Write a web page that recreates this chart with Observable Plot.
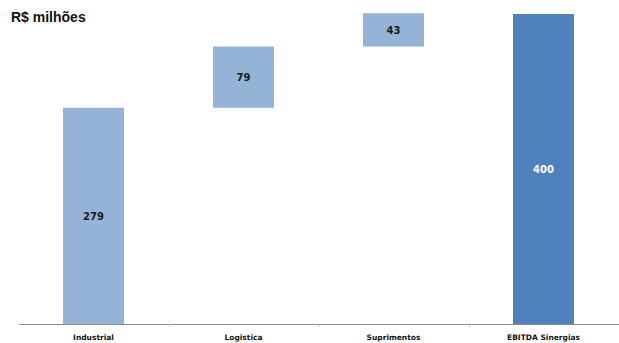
<!DOCTYPE html>
<html>
<head>
<meta charset="utf-8">
<script src="https://cdn.jsdelivr.net/npm/d3@7"></script>
<script src="https://cdn.jsdelivr.net/npm/@observablehq/plot@0.6"></script>
<style>
  html, body { margin: 0; padding: 0; background: #fff; }
  #wrap { position: relative; width: 619px; height: 343px; }
  #title { position: absolute; left: 11px; top: 9px; font-family: "Liberation Sans", Arial, sans-serif; font-weight: bold; font-size: 14px; color: #111; }
</style>
</head>
<body>
<div id="wrap">
  <div id="chart"></div>
  <div id="title">R$ milhões</div>
</div>
<script>
const categories = ["Industrial", "Logistica", "Suprimentos", "EBITDA Sinergias"];
const values = [279, 79, 43, 400];
const isTotal = [false, false, false, true];

const rows = [];
let running = 0;
categories.forEach((c, i) => {
  let y1, y2;
  if (isTotal[i]) { y1 = 0; y2 = values[i]; }
  else { y1 = running; y2 = running + values[i]; running = y2; }
  rows.push({cat: c, y1, y2, value: values[i], total: isTotal[i]});
});

const chart = Plot.plot({
  width: 619,
  height: 343,
  marginLeft: 19,
  marginRight: 0,
  marginTop: 14,
  marginBottom: 19,
  style: {fontFamily: "DejaVu Sans, sans-serif", background: "#fff"},
  x: {domain: categories, padding: 0, label: null},
  y: {domain: [0, 400], axis: null},
  marks: [
    Plot.rectY(rows, {x: "cat", y1: "y1", y2: "y2", fill: d => d.total ? "#4F81BD" : "#95B3D7", insetLeft: 44, insetRight: 45}),
    Plot.ruleY([0], {stroke: "#8c8c8c", strokeWidth: 1}),
    Plot.ruleX(categories.slice(1), {x: d => d, dx: -75, y1: 0, y2: -3.5, stroke: "#bbbbbb"}),
    Plot.text(rows, {x: "cat", y: d => (d.y1 + d.y2) / 2, text: d => String(d.value), dx: -1,
      fill: d => d.total ? "#ffffff" : "#1a1a1a", fontWeight: "bold", fontSize: 10}),
    Plot.axisX({tickSize: 0, tickPadding: 10, fontSize: 7.5, fontWeight: "bold", fill: "#111", dx: -1})
  ]
});
document.getElementById("chart").appendChild(chart);
</script>
</body>
</html>
